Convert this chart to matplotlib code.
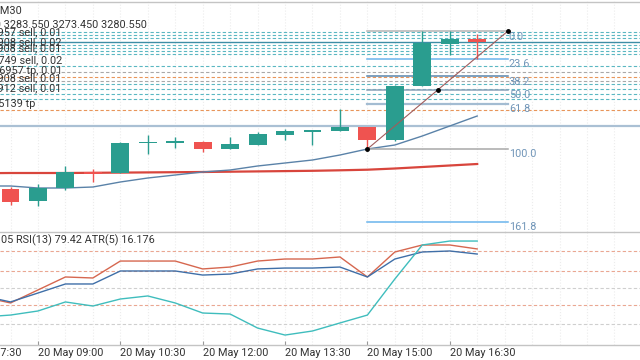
import matplotlib
matplotlib.use("Agg")
import matplotlib.pyplot as plt
import matplotlib.transforms as mtransforms
from matplotlib.lines import Line2D

plt.rcParams['font.family'] = ['Roboto', 'DejaVu Sans']

# XAUUSD M30 candles, 20 May 08:30 .. 17:00
opens = [3221.55, 3216.75, 3221.95, 3228.35, 3227.95, 3239.95, 3240.15, 3240.35, 3237.55,
         3239.15, 3243.15, 3244.55, 3244.75, 3246.35, 3241.15, 3262.75, 3279.55, 3281.75]
highs = [3222.35, 3223.55, 3230.75, 3229.55, 3240.35, 3243.15, 3242.35, 3240.75, 3242.35,
         3244.35, 3245.55, 3244.75, 3253.55, 3246.35, 3263.15, 3284.75, 3284.75, 3283.55]
lows = [3215.15, 3214.75, 3221.15, 3224.35, 3227.95, 3235.55, 3237.95, 3236.35, 3237.55,
        3239.15, 3241.15, 3239.15, 3244.75, 3237.55, 3240.75, 3262.75, 3275.15, 3273.45]
closes = [3216.35, 3221.95, 3228.35, 3227.55, 3239.95, 3240.35, 3240.35, 3237.55, 3239.55,
          3243.55, 3244.75, 3244.75, 3246.35, 3241.15, 3262.75, 3279.95, 3281.55, 3280.55]

# moving averages, from 08:00 (one bar before the first candle)
ma_fast = [3222.75, 3222.75, 3221.95, 3221.95, 3222.35, 3224.35, 3225.95, 3227.15, 3228.35, 3229.15,
           3230.75, 3231.95, 3233.15, 3235.15, 3237.55, 3239.15, 3242.75, 3246.75, 3250.75]
ma_slow = [3227.87, 3227.95, 3227.95, 3227.95, 3228.03, 3228.11, 3228.19, 3228.27, 3228.35, 3228.47,
           3228.59, 3228.71, 3228.83, 3229.03, 3229.27, 3229.75, 3230.35, 3230.95, 3231.55]

# lower window (0..100)
osc_red = [42.5, 37.2, 48.7, 60.2, 59.3, 74.3, 74.3, 74.3, 67.3, 69.0,
           74.3, 76.1, 76.1, 77.9, 60.2, 82.3, 88.5, 88.5, 85.0]
osc_blue = [43.4, 38.1, 46.0, 54.0, 54.0, 65.5, 65.5, 65.5, 61.9, 62.8,
            67.3, 68.1, 68.1, 69.0, 60.2, 76.1, 82.3, 83.2, 80.5]
osc_teal = [24.8, 26.5, 30.1, 38.1, 34.5, 40.7, 43.4, 37.2, 28.3, 27.4,
            15.0, 8.8, 12.4, 19.5, 26.5, 58.4, 88.5, 92.0, 92.0]
osc_levels = [83.0, 65.5, 50.5, 35.5, 18.5]
osc_level_colors = ['#eaa792', '#eaa792', '#cfcfcf', '#eaa792', '#cfcfcf']

# open orders / tp lines
teal_orders = [3284.35, 3283.15, 3281.95, 3279.15, 3277.95, 3276.75, 3275.55,
               3270.75, 3263.55, 3261.55, 3259.55, 3257.55]
gray_orders = [3268.35, 3264.75]
tp_lines = [3266.35, 3253.15]
price_line = 3280.55
level_line = 3246.75
order_labels = [(3281.95, "#2215473957 sell, 0.01", 61),
                (3277.95, "#2215473908 sell, 0.02", 61),
                (3275.55, "#2215474908 sell, 0.01", 61),
                (3270.75, "#2215476749 sell, 0.02", 62),
                (3266.35, "#221546957 tp, 0.01", 62),
                (3263.55, "#2215477908 sell, 0.01", 61),
                (3259.55, "#2215478912 sell, 0.01", 61),
                (3253.15, "#221545139 tp", 35)]

# fibonacci from the 15:00 low to the top
fib_start, fib_end = 13, 18.12
fib_low, fib_high = 3237.55, 3284.75
fib_levels = [0.0, 23.6, 38.2, 50.0, 61.8, 100.0, 161.8]
fib_colors = ['#b4b4b4', '#6ab4ec', '#5b86ac', '#8aa2b8', '#a3bcd2', '#a8a8a8', '#6ab4ec']

# bar index: 0 = 08:30
tick_pos = [-2, 1, 4, 7, 10, 13, 16]
tick_labels = ["20 May 07:30", "20 May 09:00", "20 May 10:30", "20 May 12:00",
               "20 May 13:30", "20 May 15:00", "20 May 16:30"]

up_col, down_col = '#2a9d8f', '#ef5350'
txt_col = '#333333'
fs = 7.8

fig = plt.figure(figsize=(6.4, 3.6), dpi=100)
ax = fig.add_axes([0, 128 / 360, 1, 232 / 360])
ax2 = fig.add_axes([0, 15 / 360, 1, 113 / 360])
xlim = (-0.383, 22.93)

for a in (ax, ax2):
    for i in range(-1, 23):
        a.axvline(i, color='#ececec', ls=':', lw=0.8, zorder=0)

ax.set_ylim(3204.35, 3297.15)
for s in ax.spines.values():
    s.set_visible(False)
ax.set_xticks([])
ax.set_yticks([])

# order lines
for p in teal_orders:
    ax.axhline(p, color='#5bb7c2', ls=(0, (3, 2)), lw=0.8, zorder=1)
for p in gray_orders:
    ax.axhline(p, color='#a9a9a9', ls=(0, (3, 2)), lw=0.8, zorder=1)
for p in tp_lines:
    ax.axhline(p, color='#e8955a', ls=(0, (3, 2)), lw=0.8, zorder=1)
ax.axhline(price_line, color='#3d8ea6', lw=1.0, zorder=1)
ax.axhline(level_line, color='#aac0d4', lw=1.6, zorder=1)

tr = mtransforms.blended_transform_factory(ax.transAxes, ax.transData)
for p, lab, xr in order_labels:
    ax.text(xr / 640, p + 0.4, lab, transform=tr, ha='right', va='bottom',
            fontsize=fs, color=txt_col)

# moving averages
ma_x = list(range(-1, len(closes)))
ax.plot(ma_x, ma_slow, color='#d8453c', lw=1.6, zorder=2)
ax.plot(ma_x, ma_fast, color='#5a82a8', lw=1.0, zorder=2)

# candles
for i in range(len(closes)):
    o, h, l, c = opens[i], highs[i], lows[i], closes[i]
    col = up_col if c >= o else down_col
    ax.vlines(i, l, h, color=col, lw=1.0, zorder=3)
    body = max(abs(c - o), 0.45)
    ax.bar(i, body, bottom=min(o, c), width=0.65, color=col, lw=0, zorder=4)

# fibonacci
span = fib_high - fib_low
for lev, col in zip(fib_levels, fib_colors):
    p = fib_high - span * lev / 100
    lw = 1.6 if lev == 61.8 else 1.1
    ax.plot([fib_start, fib_end], [p, p], color=col, lw=lw, zorder=2)
    ax.text(fib_end + 0.03, p - 0.2, f"{lev:.1f}", ha='left', va='top', fontsize=fs,
            color='#7095b8', clip_on=True, zorder=5)
mid_x = (fib_start + fib_end) / 2
mid_p = (fib_low + fib_high) / 2
ax.plot([fib_start, fib_end], [fib_low, fib_high], color='#a05c5c', lw=0.8, zorder=5)
ax.plot([fib_start, mid_x, fib_end], [fib_low, mid_p, fib_high], 'o', color='black',
        ms=2.5, zorder=6)

# header
ax.text(22 / 640, 1 - 10 / 232, "XAUUSD,M30", transform=ax.transAxes, ha='right',
        va='center', fontsize=fs, color=txt_col)
ax.text(147 / 640, 1 - 25 / 232, "3282.150 3283.550 3273.450 3280.550", transform=ax.transAxes,
        ha='right', va='center', fontsize=fs, color=txt_col)

# lower window
for lev, col in zip(osc_levels, osc_level_colors):
    ax2.axhline(lev, color=col, ls=(0, (3, 2)), lw=0.8, zorder=1)
ax2.plot(ma_x, osc_red, color='#d6674f', lw=1.0, zorder=3)
ax2.plot(ma_x, osc_blue, color='#3f6fa8', lw=1.0, zorder=3)
ax2.plot(ma_x, osc_teal, color='#3fbdbd', lw=1.0, zorder=3)
ax2.text(155 / 640, 1 - 8 / 113, "MACD(12,26,9) 11.05 RSI(13) 79.42 ATR(5) 16.176",
         transform=ax2.transAxes, ha='right', va='center', fontsize=fs, color=txt_col)

for side in ('left', 'right'):
    ax2.spines[side].set_visible(False)
for side in ('top', 'bottom'):
    ax2.spines[side].set_color('#c4c4c4')
    ax2.spines[side].set_linewidth(1.0)
ax2.set_yticks([])
ax2.set_xticks(tick_pos[1:])
ax2.set_xticklabels(tick_labels[1:], fontsize=fs, color=txt_col, ha='left')
ax2.tick_params(axis='x', direction='in', length=3, color='#999999', pad=2)

# the first label sits left of the view, draw it by hand so it is cut by the edge
xtr = mtransforms.blended_transform_factory(ax2.transData, ax2.transAxes)
ax2.annotate(tick_labels[0], xy=(tick_pos[0], 0), xycoords=xtr, xytext=(0, -2),
             textcoords='offset points', ha='left', va='top', fontsize=fs, color=txt_col,
             annotation_clip=False)

# limits last, set_xticks would widen them otherwise
for a in (ax, ax2):
    a.set_xlim(*xlim)
ax2.set_ylim(0, 100)

fig.add_artist(Line2D([0, 1], [1 - 1.5 / 360] * 2, color='#c4c4c4', lw=1.0))

fig.savefig("out.png", dpi=100, facecolor='white')
